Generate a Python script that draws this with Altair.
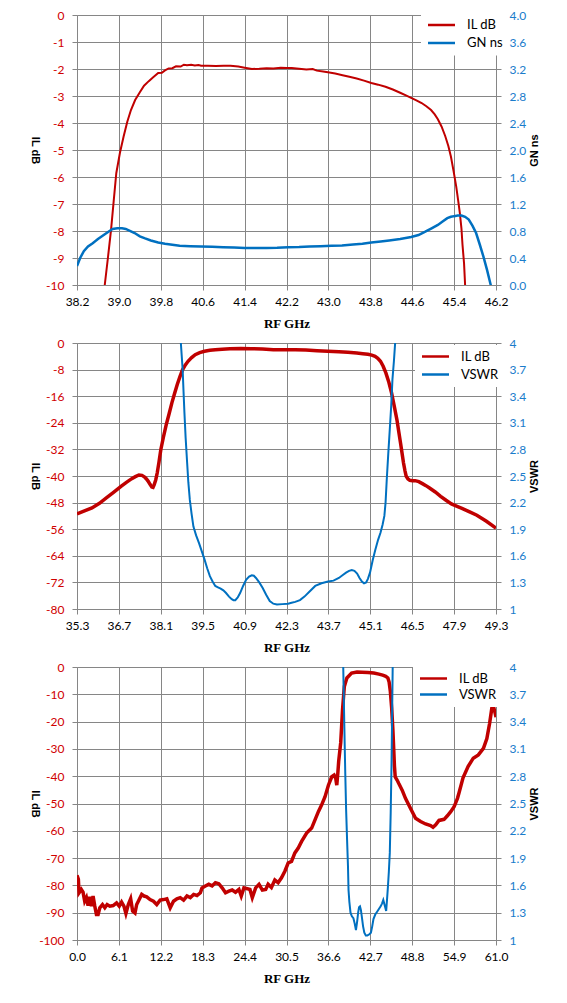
import altair as alt
import pandas as pd

RED = "#C00000"
BLUE = "#0070C0"
RED_LBL = "#D00000"
BLUE_LBL = "#1A7CCB"
GRID = "#868686"
W = 419

# ---------------- Panel 1: IL dB & GN ns ----------------
p1_il_f = [38.70, 38.73, 38.79, 38.85, 38.90, 38.95, 39.02, 39.09, 39.16, 39.23,
           39.31, 39.40, 39.48, 39.57, 39.66, 39.75, 39.82, 39.88, 39.95, 40.02,
           40.09, 40.18, 40.24, 40.30, 40.38, 40.45, 40.52, 40.57, 40.70, 40.85,
           41.00, 41.13, 41.28, 41.40, 41.54, 41.68, 41.82, 41.95, 42.09, 42.20,
           42.30, 42.44, 42.58, 42.70, 42.78, 42.90, 42.99, 43.13, 43.27, 43.40,
           43.54, 43.68, 43.82, 43.95, 44.09, 44.23, 44.37, 44.48, 44.58, 44.68,
           44.78, 44.87, 44.96, 45.03, 45.09, 45.16, 45.23, 45.29, 45.34, 45.39,
           45.44, 45.48, 45.51, 45.54, 45.56, 45.59, 45.61, 45.64]
p1_il_db = [-10.6, -10.0, -9.0, -7.96, -6.9, -5.86, -5.1, -4.5, -3.95, -3.52,
            -3.15, -2.86, -2.62, -2.45, -2.30, -2.15, -2.14, -2.05, -1.98, -1.97,
            -1.90, -1.91, -1.84, -1.86, -1.84, -1.87, -1.85, -1.88, -1.88, -1.89,
            -1.88, -1.88, -1.91, -1.95, -2.00, -1.99, -1.97, -1.98, -1.95, -1.96,
            -1.96, -1.99, -2.02, -2.00, -2.06, -2.09, -2.12, -2.17, -2.23, -2.29,
            -2.35, -2.43, -2.52, -2.58, -2.66, -2.76, -2.88, -2.98, -3.07, -3.16,
            -3.26, -3.38, -3.52, -3.68, -3.86, -4.13, -4.48, -4.85, -5.25, -5.78,
            -6.35, -6.9, -7.34, -7.9, -8.5, -9.2, -10.0, -10.6]
p1_gn_f = [38.20, 38.26, 38.33, 38.41, 38.50, 38.60, 38.71, 38.80, 38.88, 38.97,
           39.06, 39.13, 39.19, 39.30, 39.40, 39.50, 39.61, 39.75, 39.88, 40.02,
           40.16, 40.36, 40.57, 40.78, 40.99, 41.20, 41.40, 41.61, 41.82, 42.02,
           42.23, 42.44, 42.64, 42.85, 43.06, 43.26, 43.47, 43.65, 43.82, 44.00,
           44.16, 44.37, 44.58, 44.72, 44.85, 44.97, 45.09, 45.18, 45.27, 45.34,
           45.40, 45.47, 45.54, 45.61, 45.68, 45.75, 45.82, 45.89, 45.96, 46.03,
           46.09, 46.13]
p1_gn_ns = [0.28, 0.40, 0.50, 0.57, 0.62, 0.68, 0.74, 0.79, 0.83, 0.84,
            0.84, 0.83, 0.81, 0.77, 0.72, 0.69, 0.66, 0.63, 0.61, 0.595,
            0.58, 0.575, 0.57, 0.565, 0.56, 0.555, 0.55, 0.55, 0.55, 0.553,
            0.56, 0.563, 0.57, 0.575, 0.58, 0.585, 0.60, 0.61, 0.63, 0.645,
            0.66, 0.68, 0.71, 0.74, 0.79, 0.84, 0.89, 0.94, 0.99, 1.01,
            1.02, 1.03, 1.03, 1.01, 0.97, 0.88, 0.77, 0.60, 0.42, 0.22,
            0.03, -0.1]
p1_x_ticks = [38.2, 39.0, 39.8, 40.6, 41.4, 42.2, 43.0, 43.8, 44.6, 45.4, 46.2]
p1_l_ticks = [0, -1, -2, -3, -4, -5, -6, -7, -8, -9, -10]
p1_r_ticks = [0.0, 0.4, 0.8, 1.2, 1.6, 2.0, 2.4, 2.8, 3.2, 3.6, 4.0]

# ---------------- Panel 2: IL dB & VSWR (zoomed) ----------------
p2_il_f = [35.30, 35.55, 35.80, 36.05, 36.28, 36.52, 36.77, 36.95, 37.13, 37.25,
           37.37, 37.47, 37.56, 37.62, 37.68, 37.74, 37.80, 37.84, 37.88, 37.93,
           37.98, 38.04, 38.10, 38.19, 38.28, 38.38, 38.47, 38.56, 38.65, 38.74,
           38.83, 38.92, 39.01, 39.13, 39.25, 39.40, 39.56, 39.74, 39.92, 40.15,
           40.41, 40.77, 41.13, 41.50, 41.86, 42.22, 42.59, 42.95, 43.32, 43.68,
           44.05, 44.35, 44.65, 44.85, 45.02, 45.15, 45.26, 45.35, 45.44, 45.53,
           45.62, 45.72, 45.81, 45.90, 45.99, 46.05, 46.11, 46.16, 46.21, 46.26,
           46.30, 46.36, 46.42, 46.51, 46.60, 46.72, 46.84, 46.96, 47.08, 47.27,
           47.45, 47.63, 47.81, 48.00, 48.18, 48.42, 48.66, 48.98, 49.30]
p2_il_db = [-51.4, -50.5, -49.6, -48.2, -46.6, -44.9, -43.1, -41.9, -40.8, -40.2,
            -39.7, -39.8, -40.3, -40.9, -41.6, -42.5, -43.3, -43.4, -42.6, -41.2,
            -39.1, -35.8, -32.1, -28.2, -24.6, -21.2, -18.0, -15.2, -12.5, -10.1,
            -8.0, -6.6, -5.5, -4.4, -3.5, -2.9, -2.5, -2.2, -2.0, -1.85,
            -1.7, -1.65, -1.7, -1.8, -2.0, -2.0, -2.0, -2.1, -2.3, -2.45,
            -2.6, -2.8, -3.0, -3.2, -3.4, -3.65, -4.0, -4.6, -5.5, -7.0,
            -9.0, -11.8, -15.0, -19.0, -23.1, -26.6, -30.1, -33.1, -36.1, -38.5,
            -40.1, -40.9, -41.3, -41.4, -41.4, -41.7, -42.3, -42.9, -43.6, -44.8,
            -46.1, -47.3, -48.4, -49.1, -49.8, -50.8, -51.8, -53.6, -55.7]
p2_vswr_f = [38.75, 38.77, 38.80, 38.83, 38.86, 38.89, 38.93, 38.98, 39.02, 39.07,
             39.13, 39.19, 39.28, 39.38, 39.47, 39.56, 39.65, 39.74, 39.83, 39.92,
             40.01, 40.10, 40.19, 40.28, 40.38, 40.47, 40.53, 40.59, 40.67, 40.75,
             40.85, 40.95, 41.05, 41.14, 41.21, 41.28, 41.39, 41.50, 41.62, 41.74,
             41.86, 41.98, 42.16, 42.35, 42.47, 42.59, 42.75, 42.90, 43.08, 43.26,
             43.47, 43.69, 43.87, 44.05, 44.17, 44.29, 44.39, 44.48, 44.57, 44.66,
             44.74, 44.82, 44.89, 44.96, 45.02, 45.09, 45.18, 45.27, 45.36, 45.44,
             45.51, 45.57, 45.61, 45.65, 45.70, 45.75, 45.80, 45.84, 45.89, 45.93,
             45.97]
p2_vswr = [4.2, 4.0, 3.85, 3.70, 3.45, 3.21, 2.93, 2.65, 2.43, 2.23,
           2.07, 1.93, 1.83, 1.74, 1.65, 1.56, 1.46, 1.37, 1.31, 1.26,
           1.245, 1.23, 1.21, 1.18, 1.14, 1.11, 1.10, 1.10, 1.13, 1.18,
           1.26, 1.33, 1.365, 1.38, 1.375, 1.35, 1.30, 1.24, 1.16, 1.09,
           1.06, 1.05, 1.055, 1.06, 1.07, 1.08, 1.10, 1.14, 1.20, 1.26,
           1.29, 1.31, 1.32, 1.35, 1.38, 1.41, 1.43, 1.44, 1.43, 1.40,
           1.35, 1.31, 1.29, 1.30, 1.34, 1.41, 1.55, 1.67, 1.78, 1.86,
           1.95, 2.05, 2.20, 2.46, 2.75, 3.02, 3.30, 3.59, 3.80, 4.0,
           4.19]
p2_x_ticks = [35.3, 36.7, 38.1, 39.5, 40.9, 42.3, 43.7, 45.1, 46.5, 47.9, 49.3]
p2_l_ticks = [0, -8, -16, -24, -32, -40, -48, -56, -64, -72, -80]
p2_r_ticks = [1, 1.3, 1.6, 1.9, 2.2, 2.5, 2.8, 3.1, 3.4, 3.7, 4]

# ---------------- Panel 3: IL dB & VSWR (wideband) ----------------
p3_il_f = [0.00, 0.20, 0.30, 0.63, 0.88, 1.12, 1.37, 1.61, 1.85, 2.10,
           2.34, 2.59, 2.83, 3.07, 3.32, 3.71, 4.05, 4.39, 4.78, 5.27,
           5.76, 6.15, 6.49, 6.83, 7.12, 7.47, 7.81, 8.10, 8.44, 8.69,
           8.93, 9.42, 9.76, 10.15, 10.64, 11.13, 11.61, 12.10, 12.59, 13.08,
           13.57, 14.05, 14.54, 15.03, 15.52, 16.01, 16.49, 16.98, 17.47, 17.96,
           18.20, 18.69, 19.18, 19.67, 20.15, 20.64, 21.13, 21.62, 22.11, 22.59,
           23.08, 23.57, 23.91, 24.30, 24.79, 25.18, 25.52, 26.01, 26.50, 26.99,
           27.47, 27.82, 28.30, 28.80, 29.28, 29.77, 30.26, 30.74, 31.23, 31.72,
           32.21, 32.70, 33.43, 34.16, 34.65, 35.14, 35.62, 36.11, 36.60, 37.09,
           37.43, 37.67, 37.82, 37.97, 38.10, 38.39, 38.66, 38.92, 39.29, 39.98,
           40.77, 41.50, 42.36, 43.20, 43.95, 44.50, 44.95, 45.26, 45.44, 45.62,
           45.81, 45.99, 46.11, 46.21, 46.33, 46.60, 46.85, 47.34, 47.82, 48.56,
           49.29, 50.02, 50.75, 51.48, 51.83, 52.22, 52.70, 53.44, 53.92, 54.41,
           54.90, 55.39, 55.63, 56.20, 56.95, 57.69, 58.43, 59.17, 59.67, 60.06,
           60.41, 60.65, 60.90, 61.00]
p3_il_db = [-76.3, -77.8, -82.7, -81.5, -82.5, -85.8, -84.5, -87.4, -84.2, -87.6,
            -83.9, -87.6, -90.7, -90.7, -88.2, -87.0, -88.2, -87.0, -87.6, -87.4,
            -86.4, -87.6, -86.1, -87.6, -90.3, -87.0, -84.9, -89.4, -90.1, -87.0,
            -85.8, -83.3, -83.9, -84.2, -85.2, -85.8, -87.0, -85.4, -85.2, -84.9,
            -88.2, -85.8, -84.9, -84.5, -85.4, -83.9, -84.5, -83.3, -83.7, -82.7,
            -80.9, -80.2, -79.6, -80.2, -79.0, -79.4, -80.9, -82.7, -82.1, -81.7,
            -82.5, -81.5, -83.9, -80.9, -81.2, -81.5, -84.5, -80.9, -79.6, -81.7,
            -81.5, -79.6, -80.8, -78.0, -79.0, -77.2, -74.8, -71.8, -71.2, -68.1,
            -66.3, -63.9, -60.8, -59.0, -56.0, -53.0, -50.5, -47.5, -43.3, -40.2,
            -39.6, -40.8, -43.3, -39.0, -34.5, -27.8, -15.6, -7.1, -4.0, -2.2,
            -1.8, -1.9, -2.0, -2.2, -2.6, -3.0, -3.4, -4.0, -5.5, -9.0,
            -15.0, -23.1, -30.1, -36.1, -40.3, -41.4, -42.7, -45.1, -48.1, -51.8,
            -55.4, -56.6, -57.5, -58.1, -58.7, -57.8, -56.2, -55.8, -54.5, -53.0,
            -51.2, -48.1, -46.0, -40.6, -36.4, -33.4, -32.2, -29.8, -26.2, -20.8,
            -14.8, -14.6, -17.2, -18.4]
p3_vswr_f = [38.72, 38.76, 38.92, 39.05, 39.18, 39.32, 39.45, 39.53, 39.65, 39.82,
             40.02, 40.24, 40.43, 40.61, 40.78, 40.93, 41.06, 41.20, 41.33, 41.46,
             41.65, 41.83, 42.05, 42.26, 42.52, 42.79, 42.98, 43.16, 43.42, 43.69,
             43.95, 44.21, 44.40, 44.59, 44.80, 45.01, 45.14, 45.27, 45.40, 45.54,
             45.67, 45.80, 45.88, 45.96, 46.00]
p3_vswr = [4.2, 4.0, 3.35, 2.85, 2.43, 2.10, 1.81, 1.55, 1.42, 1.30,
           1.26, 1.24, 1.18, 1.11, 1.20, 1.30, 1.36, 1.37, 1.33, 1.26,
           1.15, 1.08, 1.05, 1.05, 1.06, 1.08, 1.15, 1.23, 1.28, 1.31,
           1.34, 1.37, 1.40, 1.44, 1.38, 1.32, 1.45, 1.59, 1.75, 1.96,
           2.40, 2.98, 3.50, 4.0, 4.2]
p3_x_ticks = [0.0, 6.1, 12.2, 18.3, 24.4, 30.5, 36.6, 42.7, 48.8, 54.9, 61.0]
p3_l_ticks = [0, -10, -20, -30, -40, -50, -60, -70, -80, -90, -100]
p3_r_ticks = [1, 1.3, 1.6, 1.9, 2.2, 2.5, 2.8, 3.1, 3.4, 3.7, 4]

assert len(p1_il_f) == len(p1_il_db)
assert len(p1_gn_f) == len(p1_gn_ns)
assert len(p2_il_f) == len(p2_il_db)
assert len(p2_vswr_f) == len(p2_vswr)
assert len(p3_il_f) == len(p3_il_db)
assert len(p3_vswr_f) == len(p3_vswr)


def panel(il_f, il_v, r_f, r_v, r_name, x_ticks, l_ticks, r_ticks, r_label_expr,
          h, il_w, r_w, leg_x, leg_y, row_pad):
    df = pd.DataFrame({
        "f": list(il_f) + list(r_f),
        "v": list(il_v) + list(r_v),
        "s": ["IL dB"] * len(il_f) + [r_name] * len(r_f),
    })
    color = alt.Color(
        "s:N",
        scale=alt.Scale(domain=["IL dB", r_name], range=[RED, BLUE]),
        legend=alt.Legend(
            title=None, orient="none", legendX=leg_x, legendY=leg_y,
            fillColor="white", padding=5,
            symbolType="M-3,0H3", symbolSize=81, symbolOffset=9,
            symbolStrokeWidth=2.5, labelFont="Lato", labelFontSize=13,
            labelColor="black", labelOffset=19, rowPadding=row_pad,
        ),
    )
    x = alt.X(
        "f:Q",
        scale=alt.Scale(domain=[x_ticks[0], x_ticks[-1]], nice=False, zero=False),
        axis=alt.Axis(
            values=x_ticks, labelExpr="format(datum.value, '.1f')",
            title="RF GHz", titleFont="Liberation Serif", titleFontSize=13,
            titleFontWeight="bold", titleColor="black",
            titleX=W / 2, titleY=38, titleBaseline="middle",
            labelPadding=6, tickSize=5,
        ),
    )
    il = alt.Chart(df).transform_filter(alt.datum.s == "IL dB").mark_line(
        clip=True, strokeWidth=il_w
    ).encode(
        x=x,
        y=alt.Y(
            "v:Q",
            scale=alt.Scale(domain=[l_ticks[-1], l_ticks[0]], nice=False, zero=False),
            axis=alt.Axis(
                orient="left", values=l_ticks, labelExpr="'' + datum.value",
                labelColor=RED_LBL, labelPadding=8, tickSize=5,
                title="IL dB", titleFont="Liberation Sans", titleFontSize=11,
                titleFontWeight="bold", titleColor="black", titleAngle=90,
                titleX=-43, titleY=h / 2, titleAlign="center", titleBaseline="middle",
            ),
        ),
        color=color,
    )
    rr = alt.Chart(df).transform_filter(alt.datum.s == r_name).mark_line(
        clip=True, strokeWidth=r_w
    ).encode(
        x=x,
        y=alt.Y(
            "v:Q",
            scale=alt.Scale(domain=[r_ticks[0], r_ticks[-1]], nice=False, zero=False),
            axis=alt.Axis(
                orient="right", values=r_ticks, labelExpr=r_label_expr, grid=False,
                labelColor=BLUE_LBL, labelPadding=8, tickSize=5,
                title=r_name, titleFont="Liberation Sans", titleFontSize=11,
                titleFontWeight="bold", titleColor="black", titleAngle=270,
                titleX=38, titleY=h / 2, titleAlign="center", titleBaseline="middle",
            ),
        ),
        color=color,
    )
    return alt.layer(il, rr).resolve_scale(y="independent").properties(width=W, height=h)


c1 = panel(p1_il_f, p1_il_db, p1_gn_f, p1_gn_ns, "GN ns", p1_x_ticks, p1_l_ticks,
           p1_r_ticks, "format(datum.value, '.1f')", 270, 2, 2.5, 344, -1.5, 4)
c2 = panel(p2_il_f, p2_il_db, p2_vswr_f, p2_vswr, "VSWR", p2_x_ticks, p2_l_ticks,
           p2_r_ticks, "'' + datum.value", 266, 3.5, 2, 338, 2, 4)
c3 = panel(p3_il_f, p3_il_db, p3_vswr_f, p3_vswr, "VSWR", p3_x_ticks, p3_l_ticks,
           p3_r_ticks, "'' + datum.value", 273, 3.5, 2, 336, 0, 2)

chart = alt.vconcat(c1, c2, c3, spacing=7).resolve_scale(
    x="independent", y="independent", color="independent"
).resolve_legend(color="independent").properties(
    padding={"left": 21, "top": 1, "right": 5, "bottom": 5},
    background="white",
).configure_axis(
    labelFont="Lato", labelFontSize=12, labelColor="black",
    gridColor=GRID, gridOpacity=1, gridWidth=1,
    domainColor=GRID, domainWidth=1, tickColor=GRID, tickWidth=1,
    labelFlush=False, labelOverlap=False,
).configure_view(strokeWidth=0)

chart.save("out.html", embed_options={"renderer": "svg", "actions": False})
